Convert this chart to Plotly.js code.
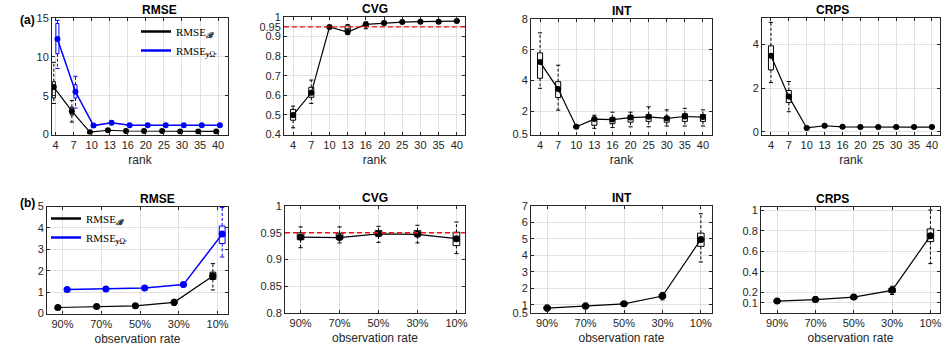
<!DOCTYPE html>
<html>
<head>
<meta charset="utf-8">
<script src="https://cdn.plot.ly/plotly-3.0.1.min.js"></script>
<style>html,body{margin:0;padding:0;background:#fff;}#chart{width:943px;height:347px;}</style>
</head>
<body>
<div id="chart"></div>
<script>
// ---------- categories & ticks ----------
const rankCats = ['4','7','10','13','16','20','25','30','35','40'];
const rateCats = ['90%','70%','50%','30%','10%'];

const rmseRankTicks = [0, 5, 10, 15];
const cvgRankTicks  = [0.4, 0.5, 0.6, 0.7, 0.8, 0.9, 0.95, 1];
const intRankTicks  = [0.5, 2, 4, 6, 8];
const crpsRankTicks = [0, 2, 4];
const rmseRateTicks = [0, 1, 2, 3, 4, 5];
const cvgRateTicks  = [0.8, 0.85, 0.9, 0.95, 1];
const intRateTicks  = [0.5, 1, 2, 3, 4, 5, 6, 7];
const crpsRateTicks = [0.1, 0.2, 0.4, 0.6, 0.8, 1];

// ---------- (a) vs rank ----------
// RMSE_B
const rankRmseB_mean = [6.1, 3.0, 0.3, 0.55, 0.45, 0.45, 0.45, 0.4, 0.4, 0.4];
const rankRmseB_q1   = [4.7, 2.5, 0.25, 0.5, 0.4, 0.4, 0.4, 0.35, 0.35, 0.35];
const rankRmseB_med  = [5.9, 3.0, 0.3, 0.55, 0.45, 0.45, 0.45, 0.4, 0.4, 0.4];
const rankRmseB_q3   = [6.8, 3.5, 0.35, 0.6, 0.5, 0.5, 0.5, 0.45, 0.45, 0.45];
const rankRmseB_lo   = [4.0, 1.6, 0.2, 0.45, 0.35, 0.35, 0.35, 0.3, 0.3, 0.3];
const rankRmseB_hi   = [9.3, 4.4, 0.4, 0.7, 0.55, 0.55, 0.55, 0.5, 0.5, 0.5];
// RMSE_y
const rankRmseY_mean = [12.3, 5.5, 1.15, 1.5, 1.2, 1.2, 1.2, 1.2, 1.2, 1.2];
const rankRmseY_q1   = [10.4, 4.7, 1.1, 1.4, 1.15, 1.15, 1.15, 1.15, 1.15, 1.15];
const rankRmseY_med  = [12.2, 5.6, 1.15, 1.5, 1.2, 1.2, 1.2, 1.2, 1.2, 1.2];
const rankRmseY_q3   = [14.3, 6.4, 1.2, 1.6, 1.25, 1.25, 1.25, 1.25, 1.25, 1.25];
const rankRmseY_lo   = [8.5, 3.4, 1.0, 1.3, 1.1, 1.1, 1.1, 1.1, 1.1, 1.1];
const rankRmseY_hi   = [14.7, 7.5, 1.3, 1.7, 1.3, 1.3, 1.3, 1.3, 1.3, 1.3];
// CVG
const rankCvg_mean = [0.499, 0.613, 0.949, 0.923, 0.962, 0.969, 0.974, 0.976, 0.976, 0.979];
const rankCvg_q1   = [0.473, 0.59, 0.944, 0.926, 0.955, 0.965, 0.971, 0.973, 0.973, 0.976];
const rankCvg_med  = [0.49, 0.615, 0.949, 0.94, 0.962, 0.969, 0.974, 0.976, 0.976, 0.979];
const rankCvg_q3   = [0.528, 0.641, 0.953, 0.955, 0.968, 0.973, 0.977, 0.979, 0.979, 0.982];
const rankCvg_lo   = [0.434, 0.559, 0.94, 0.91, 0.94, 0.96, 0.968, 0.97, 0.97, 0.973];
const rankCvg_hi   = [0.545, 0.678, 0.956, 0.962, 0.975, 0.976, 0.98, 0.982, 0.982, 0.985];
// INT
const rankInt_mean = [5.2, 3.45, 1.0, 1.5, 1.47, 1.6, 1.65, 1.55, 1.67, 1.63];
const rankInt_q1   = [4.15, 2.9, 0.95, 1.1, 1.2, 1.3, 1.35, 1.3, 1.35, 1.35];
const rankInt_med  = [5.3, 3.5, 1.0, 1.45, 1.45, 1.6, 1.65, 1.55, 1.65, 1.6];
const rankInt_q3   = [5.8, 3.93, 1.05, 1.55, 1.6, 1.75, 1.8, 1.65, 1.85, 1.8];
const rankInt_lo   = [3.5, 2.08, 0.9, 0.9, 0.95, 1.0, 1.0, 1.05, 1.05, 1.05];
const rankInt_hi   = [7.1, 5.0, 1.1, 1.75, 1.95, 1.95, 2.3, 2.1, 2.2, 2.1];
// CRPS
const rankCrps_mean = [3.48, 1.61, 0.18, 0.28, 0.23, 0.22, 0.22, 0.22, 0.22, 0.22];
const rankCrps_q1   = [2.83, 1.34, 0.15, 0.25, 0.2, 0.2, 0.2, 0.2, 0.2, 0.2];
const rankCrps_med  = [3.5, 1.6, 0.18, 0.28, 0.23, 0.22, 0.22, 0.22, 0.22, 0.22];
const rankCrps_q3   = [3.93, 1.89, 0.2, 0.31, 0.25, 0.25, 0.25, 0.25, 0.25, 0.25];
const rankCrps_lo   = [2.25, 0.92, 0.12, 0.22, 0.18, 0.16, 0.16, 0.16, 0.16, 0.16];
const rankCrps_hi   = [5.0, 2.3, 0.22, 0.34, 0.28, 0.3, 0.28, 0.28, 0.28, 0.28];

// ---------- (b) vs observation rate ----------
const rateRmseB_mean = [0.28, 0.33, 0.36, 0.52, 1.75];
const rateRmseB_q1   = [0.25, 0.28, 0.31, 0.45, 1.59];
const rateRmseB_med  = [0.28, 0.33, 0.36, 0.5, 1.7];
const rateRmseB_q3   = [0.31, 0.37, 0.4, 0.58, 1.93];
const rateRmseB_lo   = [0.22, 0.24, 0.27, 0.38, 1.1];
const rateRmseB_hi   = [0.34, 0.42, 0.45, 0.66, 2.33];
const rateRmseY_mean = [1.12, 1.15, 1.19, 1.35, 3.71];
const rateRmseY_q1   = [1.08, 1.11, 1.15, 1.3, 3.27];
const rateRmseY_med  = [1.12, 1.15, 1.19, 1.35, 3.6];
const rateRmseY_q3   = [1.16, 1.19, 1.23, 1.4, 4.09];
const rateRmseY_lo   = [1.05, 1.08, 1.12, 1.25, 2.64];
const rateRmseY_hi   = [1.19, 1.22, 1.26, 1.45, 4.95];
const rateCvg_mean = [0.942, 0.941, 0.948, 0.947, 0.939];
const rateCvg_q1   = [0.937, 0.938, 0.944, 0.944, 0.926];
const rateCvg_med  = [0.943, 0.942, 0.949, 0.948, 0.942];
const rateCvg_q3   = [0.95, 0.949, 0.954, 0.954, 0.951];
const rateCvg_lo   = [0.922, 0.931, 0.932, 0.931, 0.911];
const rateCvg_hi   = [0.961, 0.961, 0.962, 0.964, 0.97];
const rateInt_mean = [0.8, 0.92, 1.06, 1.53, 4.97];
const rateInt_q1   = [0.72, 0.83, 0.98, 1.42, 4.55];
const rateInt_med  = [0.8, 0.92, 1.06, 1.53, 5.0];
const rateInt_q3   = [0.88, 1.0, 1.14, 1.65, 5.35];
const rateInt_lo   = [0.62, 0.75, 0.9, 1.3, 3.6];
const rateInt_hi   = [0.98, 1.1, 1.2, 1.75, 6.53];
const rateCrps_mean = [0.116, 0.13, 0.155, 0.22, 0.75];
const rateCrps_q1   = [0.108, 0.12, 0.14, 0.2, 0.694];
const rateCrps_med  = [0.116, 0.13, 0.155, 0.22, 0.76];
const rateCrps_q3   = [0.125, 0.14, 0.165, 0.24, 0.817];
const rateCrps_lo   = [0.1, 0.11, 0.13, 0.18, 0.48];
const rateCrps_hi   = [0.13, 0.16, 0.18, 0.26, 1.0];

const cvgTarget = 0.95;
const legendNameB = 'RMSE<sub><b><i>ℬ</i></b></sub>';
const legendNameY = 'RMSE<sub><b><i>y</i></b>Ωᶜ</sub>';

// ---------- helpers ----------
const FONT = 'Liberation Sans, Arial, sans-serif';
const BLACK = '#000000', BLUE = '#0000ff', AXC = '#262626';
const traces = [];

function S(mean, q1, med, q3, lo, hi) { return {mean, q1, med, q3, lo, hi}; }

function addSeries(axn, st, offset, boxW, color, lw, msize) {
  const xa = 'x' + axn, ya = 'y' + axn;
  const pos = st.mean.map((_, i) => i + offset);
  traces.push({type:'box', xaxis:xa, yaxis:ya, x:pos, q1:st.q1, median:st.med, q3:st.q3,
    lowerfence:st.q1, upperfence:st.q3, width:boxW, whiskerwidth:0, boxpoints:false,
    line:{color:color, width:1}, fillcolor:'rgba(255,255,255,0)', showlegend:false, hoverinfo:'skip'});
  const wx = [], wy = [], cx = [], cy = [];
  pos.forEach((p, i) => {
    wx.push(p, p, null, p, p, null);
    wy.push(st.q3[i], st.hi[i], null, st.q1[i], st.lo[i], null);
    cx.push(p, p); cy.push(st.hi[i], st.lo[i]);
  });
  traces.push({type:'scatter', mode:'lines', xaxis:xa, yaxis:ya, x:wx, y:wy,
    line:{color:color, width:1, dash:'3px,2px'}, showlegend:false, hoverinfo:'skip'});
  traces.push({type:'scatter', mode:'markers', xaxis:xa, yaxis:ya, x:cx, y:cy,
    marker:{symbol:'line-ew', size:3, line:{color:color, width:1}}, showlegend:false, hoverinfo:'skip'});
  traces.push({type:'scatter', mode:'lines+markers', xaxis:xa, yaxis:ya, x:pos, y:st.mean,
    line:{color:color, width:lw}, marker:{color:color, size:msize, symbol:'circle'}, showlegend:false});
}
function addLegendItem(axn, name, color, legendId) {
  traces.push({type:'scatter', mode:'lines', xaxis:'x'+axn, yaxis:'y'+axn, x:[null], y:[null],
    name:name, line:{color:color, width:2.5}, legend:legendId, showlegend:true});
}

// (a)
addSeries('',  S(rankRmseB_mean, rankRmseB_q1, rankRmseB_med, rankRmseB_q3, rankRmseB_lo, rankRmseB_hi), -0.1, 0.17, BLACK, 1.2, 6);
addSeries('',  S(rankRmseY_mean, rankRmseY_q1, rankRmseY_med, rankRmseY_q3, rankRmseY_lo, rankRmseY_hi), 0.1, 0.17, BLUE, 1.5, 6);
addSeries('2', S(rankCvg_mean, rankCvg_q1, rankCvg_med, rankCvg_q3, rankCvg_lo, rankCvg_hi), 0, 0.28, BLACK, 1.2, 6);
addSeries('3', S(rankInt_mean, rankInt_q1, rankInt_med, rankInt_q3, rankInt_lo, rankInt_hi), 0, 0.28, BLACK, 1.2, 6);
addSeries('4', S(rankCrps_mean, rankCrps_q1, rankCrps_med, rankCrps_q3, rankCrps_lo, rankCrps_hi), 0, 0.28, BLACK, 1.2, 6);
// (b)
addSeries('5', S(rateRmseB_mean, rateRmseB_q1, rateRmseB_med, rateRmseB_q3, rateRmseB_lo, rateRmseB_hi), -0.12, 0.15, BLACK, 1.2, 7);
addSeries('5', S(rateRmseY_mean, rateRmseY_q1, rateRmseY_med, rateRmseY_q3, rateRmseY_lo, rateRmseY_hi), 0.12, 0.15, BLUE, 1.5, 7);
addSeries('6', S(rateCvg_mean, rateCvg_q1, rateCvg_med, rateCvg_q3, rateCvg_lo, rateCvg_hi), 0, 0.17, BLACK, 1.2, 7);
addSeries('7', S(rateInt_mean, rateInt_q1, rateInt_med, rateInt_q3, rateInt_lo, rateInt_hi), 0, 0.17, BLACK, 1.2, 7);
addSeries('8', S(rateCrps_mean, rateCrps_q1, rateCrps_med, rateCrps_q3, rateCrps_lo, rateCrps_hi), 0, 0.17, BLACK, 1.2, 7);

addLegendItem('',  legendNameB, BLACK, 'legend');
addLegendItem('',  legendNameY, BLUE,  'legend');
addLegendItem('5', legendNameB, BLACK, 'legend2');
addLegendItem('5', legendNameY, BLUE,  'legend2');

// ---------- layout ----------
const W = 943, H = 347;
const px = v => v / W, py = v => 1 - v / H;
const panels = [
  {n:'',  cats:rankCats, xr:[-0.2, 9.55], yr:[0, 15],      yt:rmseRankTicks, x0:52,  x1:228, y0:18,  y1:134.5, title:'RMSE', xt:'rank'},
  {n:'2', cats:rankCats, xr:[-0.5, 9.45], yr:[0.4, 1],     yt:cvgRankTicks,  x0:284, x1:465, y0:17,  y1:134.5, title:'CVG',  xt:'rank'},
  {n:'3', cats:rankCats, xr:[-0.5, 9.5],  yr:[0.5, 8],     yt:intRankTicks,  x0:531, x1:712, y0:19,  y1:134.5, title:'INT',  xt:'rank'},
  {n:'4', cats:rankCats, xr:[-0.5, 9.45], yr:[-0.12, 5.2], yt:crpsRankTicks, x0:762, x1:940, y0:18,  y1:134.5, title:'CRPS', xt:'rank'},
  {n:'5', cats:rateCats, xr:[-0.4, 4.27], yr:[0, 5],       yt:rmseRateTicks, x0:47,  x1:228, y0:206.5, y1:313.5, title:'RMSE', xt:'observation rate'},
  {n:'6', cats:rateCats, xr:[-0.4, 4.22], yr:[0.8, 1],     yt:cvgRateTicks,  x0:285, x1:465, y0:206, y1:313, title:'CVG',  xt:'observation rate'},
  {n:'7', cats:rateCats, xr:[-0.42, 4.29],yr:[0.5, 7],     yt:intRateTicks,  x0:531, x1:712, y0:206, y1:313, title:'INT',  xt:'observation rate'},
  {n:'8', cats:rateCats, xr:[-0.42, 4.25],yr:[0, 1.03],    yt:crpsRateTicks, x0:761, x1:940, y0:207, y1:313, title:'CRPS', xt:'observation rate'}
];

const layout = {
  width:W, height:H, margin:{l:0, r:0, t:0, b:0}, paper_bgcolor:'#fff', plot_bgcolor:'#fff',
  boxmode:'overlay', showlegend:true, font:{family:FONT, color:AXC},
  legend:{x:px(136), y:py(17), xanchor:'left', yanchor:'top', bgcolor:'rgba(255,255,255,0)', borderwidth:0,
          font:{family:'Liberation Serif, Times New Roman, serif', size:11, color:'#000'}, itemwidth:30, tracegroupgap:0},
  legend2:{x:px(46), y:py(204), xanchor:'left', yanchor:'top', bgcolor:'rgba(255,255,255,0)', borderwidth:0,
          font:{family:'Liberation Serif, Times New Roman, serif', size:11, color:'#000'}, itemwidth:30, tracegroupgap:0},
  annotations:[], shapes:[]
};
const axBase = {showline:true, linecolor:AXC, linewidth:1, mirror:'ticks', ticks:'inside', ticklen:3, tickcolor:AXC,
  showgrid:true, gridcolor:'#e1e1e1', gridwidth:1, zeroline:false, fixedrange:true,
  tickfont:{family:FONT, size:11, color:AXC}};
panels.forEach(p => {
  const xk = 'xaxis' + p.n, yk = 'yaxis' + p.n;
  layout[xk] = Object.assign({}, axBase, {domain:[px(p.x0), px(p.x1)], anchor:'y' + p.n, range:p.xr,
    tickmode:'array', tickvals:p.cats.map((_, i) => i), ticktext:p.cats,
    title:{text:p.xt, font:{family:FONT, size:12, color:AXC}, standoff:5}});
  layout[yk] = Object.assign({}, axBase, {domain:[py(p.y1), py(p.y0)], anchor:'x' + p.n, range:p.yr,
    tickmode:'array', tickvals:p.yt, ticktext:p.yt.map(v => String(v))});
  layout.annotations.push({text:'<b>' + p.title + '</b>', xref:'paper', yref:'paper', x:(px(p.x0) + px(p.x1)) / 2,
    y:py(p.y0 - 8), yanchor:'middle', showarrow:false, font:{family:FONT, size:12, color:'#000'}});
});
layout.annotations.push({text:'<b>(a)</b>', xref:'paper', yref:'paper', x:px(18), y:py(11), showarrow:false, font:{family:FONT, size:12, color:'#000'}});
layout.annotations.push({text:'<b>(b)</b>', xref:'paper', yref:'paper', x:px(18), y:py(203), showarrow:false, font:{family:FONT, size:12, color:'#000'}});
['2', '6'].forEach(n => layout.shapes.push({type:'line', xref:'x' + n + ' domain', x0:0, x1:1, yref:'y' + n, y0:cvgTarget, y1:cvgTarget,
  line:{color:'#e8131a', width:1.3, dash:'5px,3px'}, layer:'above'}));

Plotly.newPlot('chart', traces, layout, {displayModeBar:false, staticPlot:true});
</script>
</body>
</html>
